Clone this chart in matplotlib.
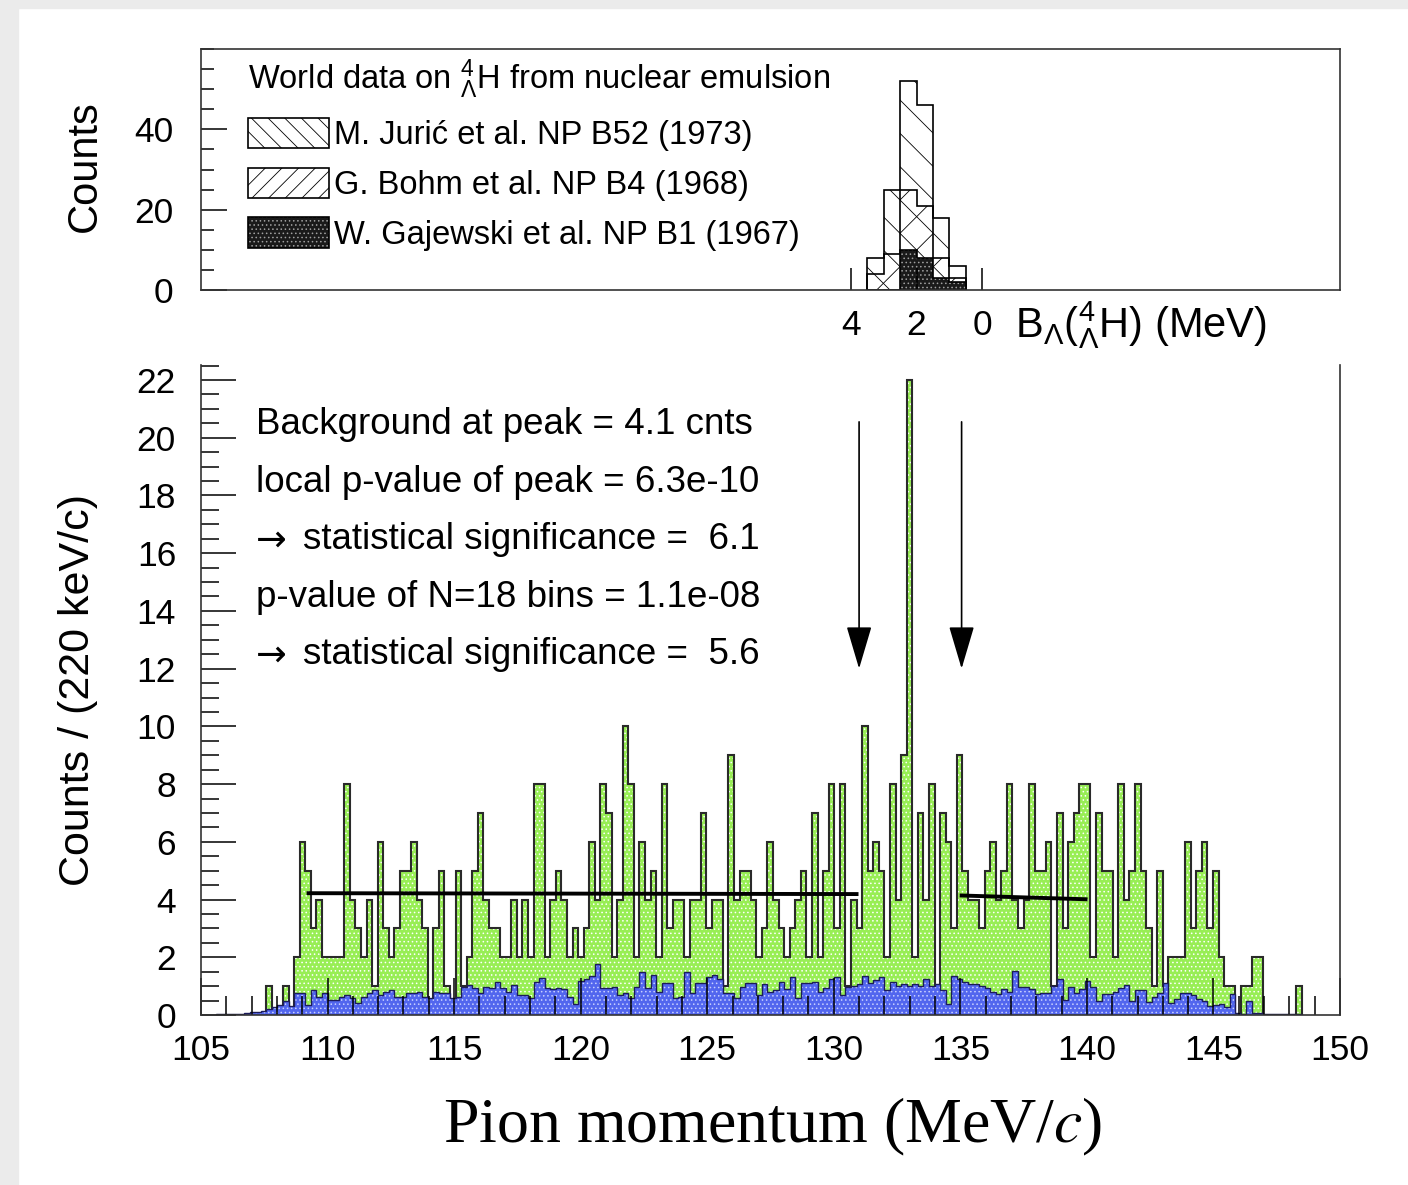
import numpy as np
import matplotlib.pyplot as plt
from matplotlib.patches import Patch, Rectangle, ArrowStyle
from matplotlib.ticker import MultipleLocator, FixedLocator, NullLocator

plt.rcParams['font.family'] = ['Liberation Sans', 'DejaVu Sans']
plt.rcParams['mathtext.fontset'] = 'custom'
plt.rcParams['mathtext.rm'] = 'Liberation Sans'
plt.rcParams['mathtext.it'] = 'Liberation Sans:italic'
plt.rcParams['mathtext.sf'] = 'Liberation Sans'
plt.rcParams['hatch.linewidth'] = 0.6

# lower panel: pion momentum spectrum, 220 keV/c bins
p_start = 105.60
p_width = 0.22
counts = [
    0, 0, 0, 0, 0, 0, 0, 0, 0, 1, 0, 0, 1, 0,
    2, 6, 5, 3, 4, 2, 2, 2, 2, 8,
    4, 3, 2, 4, 1, 6, 3, 2, 3, 5,
    5, 6, 4, 3, 0, 3, 5, 1, 0, 5,
    1, 2, 5, 7, 4, 3, 3, 2, 2, 4,
    2, 4, 2, 8, 8, 2, 4, 5, 4, 2,
    3, 2, 3, 6, 4, 8, 7, 2, 4, 10,
    8, 2, 6, 4, 5, 2, 8, 3, 4, 4,
    2, 4, 4, 7, 3, 4, 4, 1, 9, 4,
    5, 5, 4, 2, 3, 6, 4, 3, 2, 3,
    4, 5, 2, 7, 2, 5, 8, 3, 8, 1,
    4, 3, 10, 5, 6, 5, 2, 8, 4, 9,
    22, 2, 7, 4, 8, 1, 7, 6, 3, 9,
    5, 4, 4, 3, 5, 6, 4, 5, 8, 4,
    3, 4, 8, 5, 5, 6, 1, 7, 3, 6,
    7, 8, 8, 2, 7, 5, 5, 2, 8, 4,
    5, 8, 5, 3, 1, 5, 1, 2, 2, 2,
    6, 3, 5, 6, 3, 5, 2, 1, 1, 0,
    1, 1, 2, 2, 0, 0, 0, 0, 0, 0, 1,
]
background = [
    0.03, 0.03, 0.03, 0.04, 0.05, 0.06, 0.10, 0.12, 0.15, 0.20, 0.27, 0.35, 0.50, 0.30,
    0.75, 0.75, 0.35, 0.87, 0.63, 0.75, 0.52, 0.52, 0.64, 0.70,
    0.58, 0.40, 0.64, 0.75, 0.87, 0.70, 0.81, 0.87, 0.64, 0.64,
    0.75, 0.75, 0.78, 0.64, 0.58, 0.81, 0.75, 0.75, 0.58, 0.64,
    0.98, 1.04, 0.92, 0.75, 0.98, 0.92, 1.15, 0.92, 0.81, 1.04,
    0.70, 0.70, 0.58, 1.15, 1.27, 0.92, 0.89, 0.92, 0.89, 0.64,
    0.38, 1.18, 1.24, 1.35, 1.76, 0.92, 0.95, 0.98, 0.70, 0.75,
    0.60, 0.98, 1.50, 0.92, 1.39, 0.81, 1.12, 1.12, 0.58, 0.64,
    1.50, 0.75, 1.12, 1.10, 1.30, 1.39, 1.24, 0.77, 0.77, 0.60,
    0.98, 1.12, 1.12, 0.69, 1.07, 0.81, 0.87, 1.15, 0.89, 1.30,
    0.58, 1.10, 1.12, 1.14, 0.80, 0.94, 1.26, 1.30, 0.69, 0.98,
    1.01, 1.08, 1.34, 1.11, 1.20, 1.30, 0.87, 1.13, 1.01, 1.08,
    1.01, 1.08, 1.01, 1.26, 1.01, 1.08, 0.87, 0.39, 1.34, 1.23,
    1.16, 1.08, 1.08, 1.01, 0.94, 0.80, 0.72, 0.90, 0.81, 1.52,
    0.96, 0.96, 0.89, 0.73, 0.77, 0.77, 1.00, 1.25, 0.52, 0.98,
    0.75, 0.89, 1.19, 0.98, 0.50, 0.73, 0.73, 0.81, 0.92, 1.04,
    0.50, 0.87, 0.87, 0.46, 0.64, 0.75, 1.10, 0.40, 0.54, 0.77,
    0.77, 0.70, 0.54, 0.50, 0.31, 0.35, 0.38, 0.29, 0.73, 0.06,
    0.05, 0.50, 0.06, 0.08, 0.04, 0.04, 0.03, 0.03, 0.02, 0.02, 0.02,
]
fit_left_x = [109.25, 130.9]
fit_left_y = [4.22, 4.19]
fit_right_x = [135.05, 139.95]
fit_right_y = [4.14, 4.01]
arrow_x = [131.0, 135.05]
arrow_top = 20.55
arrow_tip = 12.0

# (leading arrow?, text)
info_lines = [
    (False, 'Background at peak = 4.1 cnts'),
    (False, 'local p-value of peak = 6.3e-10'),
    (True, 'statistical significance =  6.1'),
    (False, 'p-value of N=18 bins = 1.1e-08'),
    (True, 'statistical significance =  5.6'),
]

# upper panel: emulsion data vs B_Lambda, 0.5 MeV bins
b_edges = [0.5, 1.0, 1.5, 2.0, 2.5, 3.0, 3.5]
juric = [3, 10, 25, 27, 16, 4]
bohm = [1, 5, 13, 15, 9, 4]
gajewski = [2, 3, 8, 10, 0, 0]
legend_labels = ['M. Juri\u0107 et al. NP B52 (1973)',
                 'G. Bohm et al. NP B4 (1968)',
                 'W. Gajewski et al. NP B1 (1967)']

green = '#98ee55'
blue = '#5266ee'

fig = plt.figure(figsize=(14.08, 11.85), dpi=100)
fig.patches.append(Rectangle((0, 0), 18 / 1408, 1, transform=fig.transFigure,
                             color='#ebebeb', zorder=-5))
fig.patches.append(Rectangle((0, 1 - 8 / 1185), 1, 8 / 1185, transform=fig.transFigure,
                             color='#ebebeb', zorder=-5))

ax_top = fig.add_axes([201 / 1408, (1185 - 290) / 1185, 1139 / 1408, 241 / 1185])
ax = fig.add_axes([201 / 1408, (1185 - 1015) / 1185, 1139 / 1408, 650 / 1185])

# ---- lower panel
edges = p_start + p_width * np.arange(len(counts) + 1)
ax.stairs(counts, edges, fill=True, facecolor=green, edgecolor='white',
          hatch='....', linewidth=0, zorder=1)
ax.stairs(counts, edges, color='#2a2a2a', linewidth=1.5, zorder=1.2)
ax.stairs(background, edges, fill=True, facecolor=blue, edgecolor='#c8d0ff',
          hatch='....', linewidth=0, zorder=1.4)
ax.stairs(background, edges, color='#1c1c5a', linewidth=1.0, zorder=1.5)

ax.plot(fit_left_x, fit_left_y, color='black', lw=2.8, zorder=3)
ax.plot(fit_right_x, fit_right_y, color='black', lw=2.8, zorder=3)

astyle = ArrowStyle('-|>', head_length=2.7, head_width=0.8)
for xa in arrow_x:
    ax.annotate('', xy=(xa, arrow_tip), xytext=(xa, arrow_top),
                arrowprops=dict(arrowstyle=astyle, mutation_scale=10,
                                color='black', lw=1.2, shrinkA=0, shrinkB=0))

line_y = [0.909, 0.820, 0.731, 0.642, 0.554]
for (has_arrow, txt), yy in zip(info_lines, line_y):
    if has_arrow:
        ax.text(0.0483, yy, '\u2192', transform=ax.transAxes, fontsize=26.5,
                va='center', ha='left', family='DejaVu Sans')
        ax.text(0.0896, yy, txt, transform=ax.transAxes, fontsize=26.5,
                va='center', ha='left')
    else:
        ax.text(0.0483, yy, txt, transform=ax.transAxes, fontsize=26.5,
                va='center', ha='left')

ax.set_xlim(105, 150)
ax.set_ylim(0, 22.52)
ax.xaxis.set_major_locator(MultipleLocator(5))
ax.xaxis.set_minor_locator(MultipleLocator(1))
ax.yaxis.set_major_locator(MultipleLocator(2))
ax.yaxis.set_minor_locator(MultipleLocator(0.5))
ax.tick_params(axis='x', which='major', direction='in', length=27, width=1.1,
               labelsize=25.5, pad=14, top=False)
ax.tick_params(axis='x', which='minor', direction='in', length=13.5, width=1.1, top=False)
ax.tick_params(axis='y', which='major', direction='in', length=25, width=1.1,
               labelsize=25.5, pad=18, right=False)
ax.tick_params(axis='y', which='minor', direction='in', length=13, width=1.1, right=False)
ax.spines['top'].set_visible(False)
for s in ['left', 'bottom', 'right']:
    ax.spines[s].set_linewidth(1.2)
    ax.spines[s].set_color('#333333')

ax.set_ylabel('Counts / (220 keV/c)', fontsize=31)
ax.yaxis.set_label_coords(-0.0905, 0.5)
ax.set_xlabel('Pion momentum (MeV/$c$)', fontsize=46, family='Liberation Serif',
              math_fontfamily='stix', va='center')
ax.xaxis.set_label_coords(0.502, -0.172)

# ---- upper panel
juric_tot = np.array(juric) + np.array(bohm) + np.array(gajewski)
bohm_tot = np.array(bohm) + np.array(gajewski)
ax_top.stairs(juric_tot, b_edges, fill=True, facecolor='none', edgecolor='black',
              hatch='\\', linewidth=1.2)
ax_top.stairs(bohm_tot, b_edges, fill=True, facecolor='none', edgecolor='black',
              hatch='/', linewidth=1.2)
ax_top.stairs(gajewski, b_edges, fill=True, facecolor='#1a1a1a', edgecolor='#a0a0a0',
              hatch='....', linewidth=0)
ax_top.stairs(gajewski, b_edges, color='black', linewidth=1.2)

ax_top.set_xlim(23.85, -10.93)
ax_top.set_ylim(0, 60)
ax_top.xaxis.set_major_locator(FixedLocator([4, 2, 0]))
ax_top.xaxis.set_minor_locator(NullLocator())
ax_top.yaxis.set_major_locator(FixedLocator([0, 20, 40]))
ax_top.yaxis.set_minor_locator(MultipleLocator(5))
ax_top.tick_params(axis='x', which='major', direction='in', length=16, width=1.1,
                   labelsize=25.5, pad=14)
ax_top.tick_params(axis='y', which='major', direction='in', length=18.7, width=1.1,
                   labelsize=25.5, pad=20)
ax_top.tick_params(axis='y', which='minor', direction='in', length=9.4, width=1.1)
for s in ax_top.spines.values():
    s.set_linewidth(1.2)
    s.set_color('#333333')

ax_top.text(-1.0, -0.145, r'B$_{\Lambda}$($^{4}_{\Lambda}$H) (MeV)',
            transform=ax_top.get_xaxis_transform(), fontsize=30,
            ha='left', va='center')
ax_top.set_ylabel('Counts', fontsize=30)
ax_top.yaxis.set_label_coords(-0.0845, 0.514)

handles = [
    Patch(facecolor='white', edgecolor='black', hatch='\\\\', linewidth=1.2),
    Patch(facecolor='white', edgecolor='black', hatch='//', linewidth=1.2),
    (Patch(facecolor='#1a1a1a', edgecolor='#a0a0a0', hatch='....', linewidth=0),
     Patch(fill=False, edgecolor='black', linewidth=1.2)),
]
ax_top.legend(handles, legend_labels, loc='upper left', bbox_to_anchor=(0.0415, 0.963),
              frameon=False, fontsize=23.5,
              title=r'World data on $^{4}_{\Lambda}$H from nuclear emulsion',
              title_fontsize=23.5, alignment='left', handlelength=2.48,
              handleheight=1.07, handletextpad=0.15, labelspacing=0.5,
              borderpad=0, borderaxespad=0)

fig.savefig('out.png', dpi=100, facecolor='white')
